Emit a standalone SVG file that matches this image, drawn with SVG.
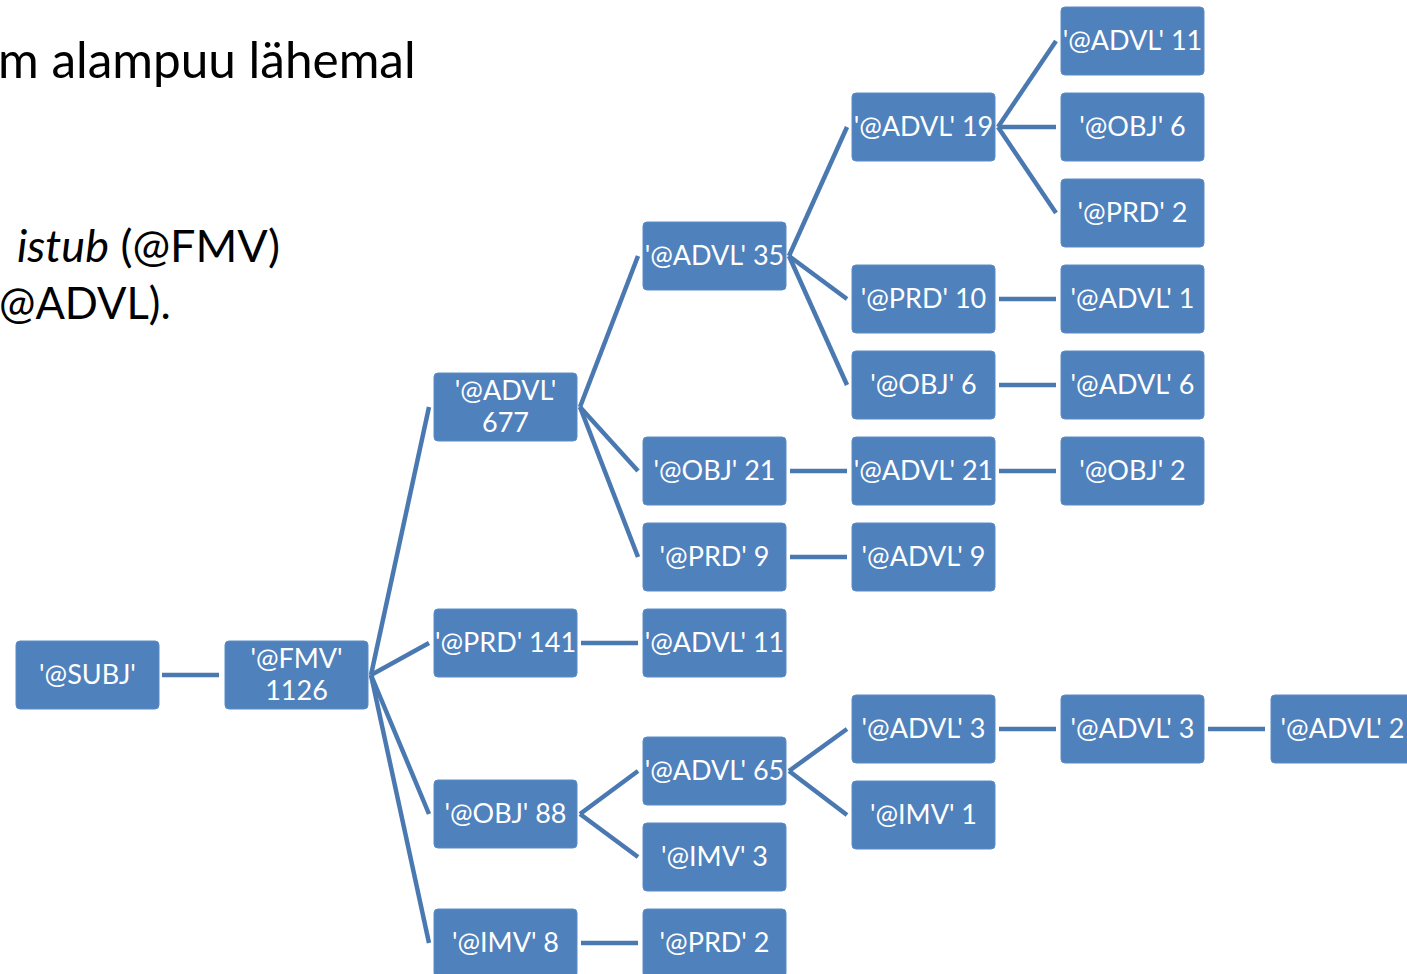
<svg xmlns="http://www.w3.org/2000/svg" width="1407" height="974" viewBox="0 0 1407 974">
<style>
.n rect{fill:#4f81bd;stroke:#5b8cc7;stroke-width:1}
.n text{fill:#ffffff;font-family:Lato,"Open Sans",sans-serif;font-size:27px;text-anchor:middle;dominant-baseline:central}
.c line{stroke:#4a79b1;stroke-width:4.5;stroke-linecap:butt}
.t{font-family:Lato,"Open Sans",sans-serif;fill:#000}
</style>
<rect width="1407" height="974" fill="#ffffff"/>
<g id="title">
<text class="t" x="-2" y="78" font-size="49.5">m alampuu lähemal</text>
<text class="t" x="17" y="262" font-size="45">
<tspan font-style="italic">istub</tspan> (@FMV)</text>
<text class="t" x="-1" y="319" font-size="43.5">@ADVL).</text>
</g>
<g id="connectors" class="c">
<line x1="162" y1="675" x2="219" y2="675"/>
<line x1="371" y1="675" x2="429" y2="407"/>
<line x1="371" y1="675" x2="429" y2="643"/>
<line x1="371" y1="675" x2="429" y2="814"/>
<line x1="371" y1="675" x2="429" y2="943"/>
<line x1="580" y1="407" x2="638" y2="256"/>
<line x1="580" y1="407" x2="638" y2="471"/>
<line x1="580" y1="407" x2="638" y2="557"/>
<line x1="581" y1="643" x2="638" y2="643"/>
<line x1="580" y1="814" x2="638" y2="771"/>
<line x1="580" y1="814" x2="638" y2="857"/>
<line x1="581" y1="943" x2="638" y2="943"/>
<line x1="789" y1="256" x2="847" y2="127"/>
<line x1="789" y1="256" x2="847" y2="299"/>
<line x1="789" y1="256" x2="847" y2="385"/>
<line x1="790" y1="471" x2="847" y2="471"/>
<line x1="790" y1="557" x2="847" y2="557"/>
<line x1="789" y1="771" x2="847" y2="729"/>
<line x1="789" y1="771" x2="847" y2="815"/>
<line x1="998" y1="127" x2="1056" y2="41"/>
<line x1="998" y1="127" x2="1056" y2="127"/>
<line x1="998" y1="127" x2="1056" y2="213"/>
<line x1="999" y1="299" x2="1056" y2="299"/>
<line x1="999" y1="385" x2="1056" y2="385"/>
<line x1="999" y1="471" x2="1056" y2="471"/>
<line x1="999" y1="729" x2="1056" y2="729"/>
<line x1="1208" y1="729" x2="1265" y2="729"/>
</g>
<g id="subj" class="n"><rect x="16" y="641" width="143" height="68" rx="4"/><text x="87.5" y="673">'@SUBJ'</text></g>
<g id="fmv" class="n"><rect x="225" y="641" width="143" height="68" rx="4"/><text x="296.5" y="657">'@FMV'</text><text x="296.5" y="689">1126</text></g>
<g id="advl677" class="n"><rect x="434" y="373" width="143" height="68" rx="4"/><text x="505.5" y="389">'@ADVL'</text><text x="505.5" y="421">677</text></g>
<g id="prd141" class="n"><rect x="434" y="609" width="143" height="68" rx="4"/><text x="505.5" y="641">'@PRD' 141</text></g>
<g id="obj88" class="n"><rect x="434" y="780" width="143" height="68" rx="4"/><text x="505.5" y="812">'@OBJ' 88</text></g>
<g id="imv8" class="n"><rect x="434" y="909" width="143" height="68" rx="4"/><text x="505.5" y="941">'@IMV' 8</text></g>
<g id="advl35" class="n"><rect x="643" y="222" width="143" height="68" rx="4"/><text x="714.5" y="254">'@ADVL' 35</text></g>
<g id="obj21" class="n"><rect x="643" y="437" width="143" height="68" rx="4"/><text x="714.5" y="469">'@OBJ' 21</text></g>
<g id="prd9" class="n"><rect x="643" y="523" width="143" height="68" rx="4"/><text x="714.5" y="555">'@PRD' 9</text></g>
<g id="advl11b" class="n"><rect x="643" y="609" width="143" height="68" rx="4"/><text x="714.5" y="641">'@ADVL' 11</text></g>
<g id="advl65" class="n"><rect x="643" y="737" width="143" height="68" rx="4"/><text x="714.5" y="769">'@ADVL' 65</text></g>
<g id="imv3" class="n"><rect x="643" y="823" width="143" height="68" rx="4"/><text x="714.5" y="855">'@IMV' 3</text></g>
<g id="prd2b" class="n"><rect x="643" y="909" width="143" height="68" rx="4"/><text x="714.5" y="941">'@PRD' 2</text></g>
<g id="advl19" class="n"><rect x="852" y="93" width="143" height="68" rx="4"/><text x="923.5" y="125">'@ADVL' 19</text></g>
<g id="prd10" class="n"><rect x="852" y="265" width="143" height="68" rx="4"/><text x="923.5" y="297">'@PRD' 10</text></g>
<g id="obj6b" class="n"><rect x="852" y="351" width="143" height="68" rx="4"/><text x="923.5" y="383">'@OBJ' 6</text></g>
<g id="advl21" class="n"><rect x="852" y="437" width="143" height="68" rx="4"/><text x="923.5" y="469">'@ADVL' 21</text></g>
<g id="advl9" class="n"><rect x="852" y="523" width="143" height="68" rx="4"/><text x="923.5" y="555">'@ADVL' 9</text></g>
<g id="advl3a" class="n"><rect x="852" y="695" width="143" height="68" rx="4"/><text x="923.5" y="727">'@ADVL' 3</text></g>
<g id="imv1" class="n"><rect x="852" y="781" width="143" height="68" rx="4"/><text x="923.5" y="813">'@IMV' 1</text></g>
<g id="advl11" class="n"><rect x="1061" y="7" width="143" height="68" rx="4"/><text x="1132.5" y="39">'@ADVL' 11</text></g>
<g id="obj6" class="n"><rect x="1061" y="93" width="143" height="68" rx="4"/><text x="1132.5" y="125">'@OBJ' 6</text></g>
<g id="prd2" class="n"><rect x="1061" y="179" width="143" height="68" rx="4"/><text x="1132.5" y="211">'@PRD' 2</text></g>
<g id="advl1" class="n"><rect x="1061" y="265" width="143" height="68" rx="4"/><text x="1132.5" y="297">'@ADVL' 1</text></g>
<g id="advl6" class="n"><rect x="1061" y="351" width="143" height="68" rx="4"/><text x="1132.5" y="383">'@ADVL' 6</text></g>
<g id="obj2" class="n"><rect x="1061" y="437" width="143" height="68" rx="4"/><text x="1132.5" y="469">'@OBJ' 2</text></g>
<g id="advl3b" class="n"><rect x="1061" y="695" width="143" height="68" rx="4"/><text x="1132.5" y="727">'@ADVL' 3</text></g>
<g id="advl2" class="n"><rect x="1271" y="695" width="143" height="68" rx="4"/><text x="1342.5" y="727">'@ADVL' 2</text></g>
</svg>
